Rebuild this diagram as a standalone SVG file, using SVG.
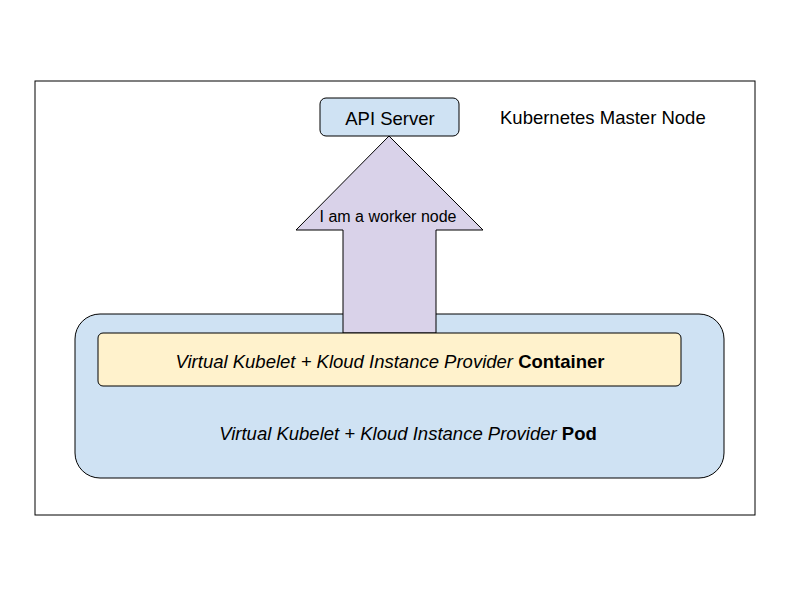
<svg xmlns="http://www.w3.org/2000/svg" width="800" height="600" viewBox="0 0 800 600">
<style>
.s{stroke:#000;stroke-width:1}
.t{font-family:"Liberation Sans",Arial,sans-serif;fill:#000}
</style>
<rect x="0" y="0" width="800" height="600" fill="#fff"/>
<g id="master">
<rect x="35" y="81" width="720" height="434" fill="#fff" class="s"/>
<text class="t" x="500" y="124" font-size="18.5">Kubernetes Master Node</text>
</g>
<g id="pod">
<rect x="75" y="314" width="649" height="164" rx="25" fill="#cfe2f3" class="s"/>
<text class="t" x="408" y="440" font-size="18.5" text-anchor="middle"><tspan font-style="italic">Virtual Kubelet + Kloud Instance Provider </tspan><tspan font-weight="bold">Pod</tspan></text>
</g>
<g id="connectors">
<g id="arrow">
<polygon points="389,136 483,230 436,230 436,333 343,333 343,230 296,230" fill="#d9d2e9" class="s"/>
<text class="t" x="388" y="222" font-size="16" text-anchor="middle">I am a worker node</text>
</g>
</g>
<g id="container">
<rect x="98" y="333" width="583" height="53" rx="5" fill="#fff2cc" class="s"/>
<text class="t" x="390" y="368" font-size="18.5" text-anchor="middle"><tspan font-style="italic">Virtual Kubelet + Kloud Instance Provider </tspan><tspan font-weight="bold">Container</tspan></text>
</g>
<g id="api">
<rect x="320" y="98" width="139" height="38" rx="6" fill="#cfe2f3" class="s"/>
<text class="t" x="390" y="125" font-size="18.5" text-anchor="middle">API Server</text>
</g>
</svg>
